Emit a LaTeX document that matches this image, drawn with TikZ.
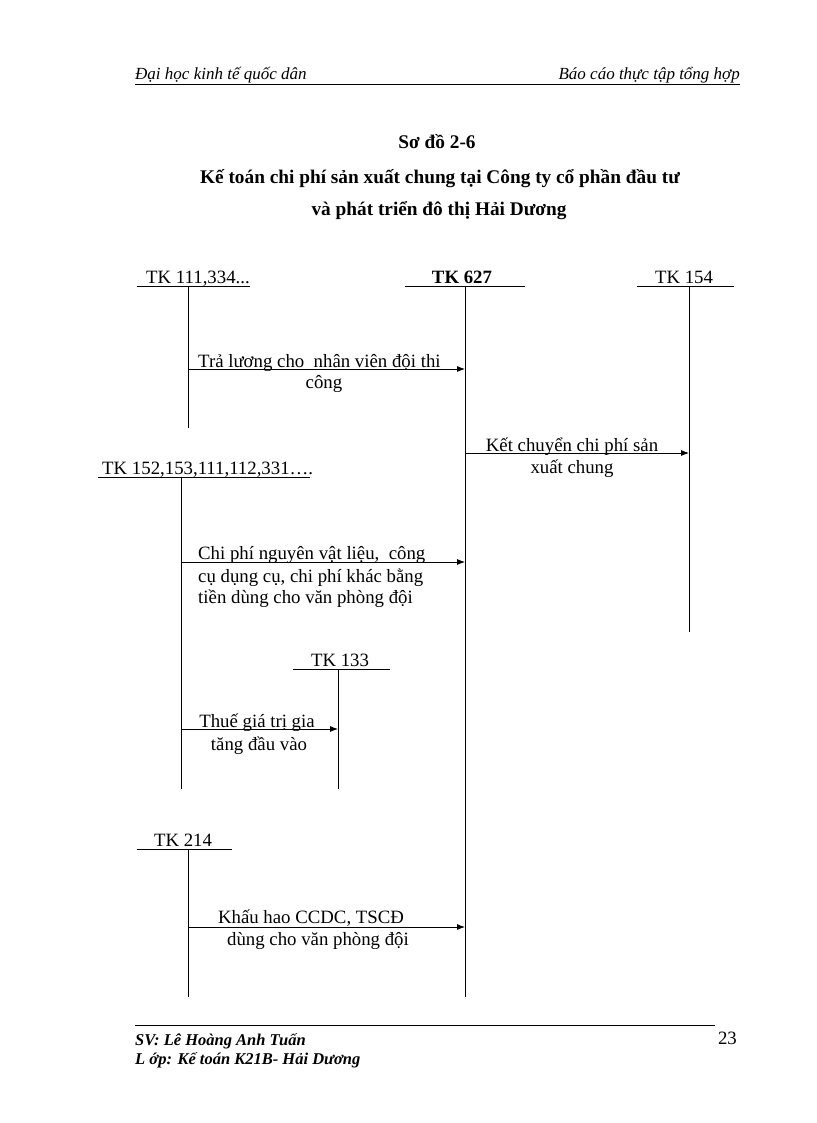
\documentclass[tikz,border=0pt]{standalone}
\usepackage{fontspec}
\setmainfont{Liberation Serif}
\usetikzlibrary{arrows.meta}
\begin{document}
\begin{tikzpicture}[x=1pt,y=-1pt,
  acct/.style={inner sep=0pt,anchor=base,font=\fontsize{18.8}{21}\selectfont},
  tline/.style={line width=0.8pt},
  flow/.style={line width=0.8pt,-{Latex[length=8pt,width=6pt]}},
  head/.style={inner sep=0pt,anchor=base,font=\fontsize{17}{19}\selectfont\itshape},
  ttl/.style={inner sep=0pt,anchor=base,font=\fontsize{19.3}{22}\selectfont\bfseries}]
\useasboundingbox (0,0) rectangle (816,1123);
% header
\node[head,anchor=base west] (hl) at (135,80) {Đại học kinh tế quốc dân};
\node[head,anchor=base east] (hr) at (740,80) {Báo cáo thực tập tổng hợp};
\coordinate (h1) at (135,85); \coordinate (h2) at (740,85);
\draw[line width=1pt] (h1) -- (h2);
% title
\node[ttl] (t1) at (437,149) {Sơ đồ 2-6};
\node[ttl] (t2) at (440,184) {Kế toán chi phí sản xuất chung tại Công ty cổ phần đầu tư};
\node[ttl] (t3) at (439,215) {và phát triển đô thị Hải Dương};
% TK 111,334
\node[acct] (k111) at (198,283) {TK 111,334...};
\coordinate (k111l) at (137,286); \coordinate (k111r) at (250,286);
\draw[tline] (k111l) -- (k111r);
\coordinate (k111t) at (188,286); \coordinate (k111b) at (188,428);
\draw[tline] (k111t) -- (k111b);
% TK 627
\node[acct,font=\fontsize{18.8}{21}\selectfont\bfseries] (k627) at (462,283) {TK 627};
\coordinate (k627l) at (405,286); \coordinate (k627r) at (525,286);
\draw[tline] (k627l) -- (k627r);
\coordinate (k627t) at (465,286); \coordinate (k627b) at (465,997);
\draw[tline] (k627t) -- (k627b);
% TK 154
\node[acct] (k154) at (684,283) {TK 154};
\coordinate (k154l) at (637,286); \coordinate (k154r) at (734,286);
\draw[tline] (k154l) -- (k154r);
\coordinate (k154t) at (689,286); \coordinate (k154b) at (689,632);
\draw[tline] (k154t) -- (k154b);
% TK 152...
\node[acct,anchor=base west] (k152) at (102,474) {TK 152,153,111,112,331….};
\coordinate (k152l) at (98,477); \coordinate (k152r) at (310,477);
\draw[tline] (k152l) -- (k152r);
\coordinate (k152t) at (181,477); \coordinate (k152b) at (181,789);
\draw[tline] (k152t) -- (k152b);
% TK 133
\node[acct] (k133) at (340,666) {TK 133};
\coordinate (k133l) at (293,669); \coordinate (k133r) at (390,669);
\draw[tline] (k133l) -- (k133r);
\coordinate (k133t) at (338,669); \coordinate (k133b) at (338,789);
\draw[tline] (k133t) -- (k133b);
% TK 214
\node[acct] (k214) at (183,846) {TK 214};
\coordinate (k214l) at (137,849); \coordinate (k214r) at (232,849);
\draw[tline] (k214l) -- (k214r);
\coordinate (k214t) at (188,849); \coordinate (k214b) at (188,997);
\draw[tline] (k214t) -- (k214b);
% flows
\coordinate (a1s) at (188,369); \coordinate (a1e) at (465,369);
\draw[flow] (a1s) -- (a1e);
\node[acct,anchor=base west] (l1a) at (198,367) {Trả lương cho\ \ nhân viên đội thi};
\node[acct] (l1b) at (324,388) {công};
\coordinate (a2s) at (465,453); \coordinate (a2e) at (689,453);
\draw[flow] (a2s) -- (a2e);
\node[acct] (l2a) at (572,451) {Kết chuyển chi phí sản};
\node[acct] (l2b) at (572,473) {xuất chung};
\coordinate (a3s) at (181,562); \coordinate (a3e) at (465,562);
\draw[flow] (a3s) -- (a3e);
\node[acct,anchor=base west] (l3a) at (198,559) {Chi phí nguyên vật liệu,\ \ công};
\node[acct,anchor=base west] (l3b) at (198,582) {cụ dụng cụ, chi phí khác bằng};
\node[acct,anchor=base west] (l3c) at (198,603) {tiền dùng cho văn phòng đội};
\coordinate (a4s) at (181,729); \coordinate (a4e) at (338,729);
\draw[flow] (a4s) -- (a4e);
\node[acct] (l4a) at (257,727) {Thuế giá trị gia};
\node[acct] (l4b) at (259,750) {tăng đầu vào};
\coordinate (a5s) at (188,927); \coordinate (a5e) at (465,927);
\draw[flow] (a5s) -- (a5e);
\node[acct] (l5a) at (311,923) {Khấu hao CCDC, TSCĐ};
\node[acct] (l5b) at (318,945) {dùng cho văn phòng đội};
% footer
\coordinate (f1) at (135,1025); \coordinate (f2) at (715,1025);
\draw[line width=0.7pt] (f1) -- (f2);
\node[head,anchor=base west,font=\fontsize{16.5}{19}\selectfont\bfseries\itshape] (s1) at (135,1045) {SV: Lê Hoàng Anh Tuấn};
\node[head,anchor=base west,font=\fontsize{16.5}{19}\selectfont\bfseries\itshape] (s2) at (135,1064) {L ớp: Kế toán K21B- Hải Dương};
\node[acct,anchor=base east] (pg) at (737,1044) {23};
\end{tikzpicture}
\end{document}
